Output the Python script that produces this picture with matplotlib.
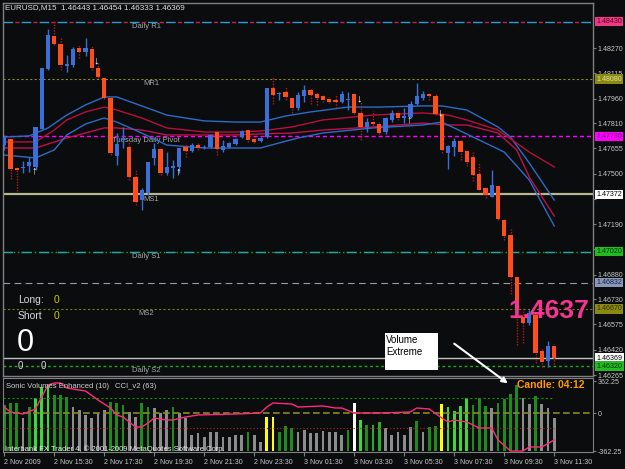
import matplotlib
matplotlib.use('Agg')
import matplotlib.pyplot as plt
from matplotlib.patches import Rectangle, FancyArrowPatch
import matplotlib.transforms as mtransforms

plt.rcParams['font.family'] = ['Liberation Sans', 'DejaVu Sans']

# ---------------- data ----------------
opens = [1.47675, 1.47712, 1.47534, 1.47534, 1.47547, 1.47541, 1.47773, 1.48141, 1.48344, 1.48295,
         1.48160, 1.48166, 1.48270, 1.48245, 1.48264, 1.48147, 1.48086, 1.47963, 1.47608, 1.47706,
         1.47663, 1.47479, 1.47338, 1.47381, 1.47596, 1.47651, 1.47504, 1.47534, 1.47541, 1.47663,
         1.47639, 1.47675, 1.47657, 1.47663, 1.47755, 1.47645, 1.47663, 1.47682, 1.47724, 1.47767,
         1.47712, 1.47700, 1.47724, 1.48025, 1.47988, 1.48000, 1.47963, 1.47902, 1.47976, 1.48013,
         1.47988, 1.47976, 1.47957, 1.47951, 1.47939, 1.47951, 1.47988, 1.47872, 1.47786, 1.47816,
         1.47804, 1.47755, 1.47829, 1.47872, 1.47841, 1.47847, 1.47927, 1.47963, 1.47988, 1.47976,
         1.47865, 1.47626, 1.47663, 1.47700, 1.47639, 1.47602, 1.47498, 1.47412, 1.47357, 1.47424,
         1.47216, 1.47124, 1.46866, 1.46621, 1.46584, 1.46633, 1.46413, 1.46352, 1.46443]
highs = [1.47737, 1.47724, 1.47541, 1.47577, 1.47602, 1.47786, 1.48147, 1.48387, 1.48435, 1.48337,
         1.48227, 1.48276, 1.48288, 1.48331, 1.48288, 1.48184, 1.48092, 1.47963, 1.47749, 1.47786,
         1.47700, 1.47522, 1.47412, 1.47571, 1.47688, 1.47657, 1.47632, 1.47583, 1.47657, 1.47688,
         1.47688, 1.47688, 1.47675, 1.47743, 1.47761, 1.47706, 1.47694, 1.47718, 1.47767, 1.47780,
         1.47724, 1.47724, 1.48025, 1.48098, 1.48000, 1.48037, 1.47970, 1.48000, 1.48043, 1.48025,
         1.48006, 1.47988, 1.47970, 1.47988, 1.48006, 1.48000, 1.47994, 1.47939, 1.47841, 1.47884,
         1.47816, 1.47847, 1.47890, 1.47884, 1.47902, 1.47945, 1.48055, 1.48006, 1.48000, 1.47988,
         1.47872, 1.47675, 1.47718, 1.47706, 1.47639, 1.47632, 1.47571, 1.47418, 1.47522, 1.47430,
         1.47222, 1.47160, 1.46872, 1.46682, 1.46664, 1.46646, 1.46426, 1.46474, 1.46454]
lows = [1.47645, 1.47467, 1.47394, 1.47504, 1.47510, 1.47522, 1.47773, 1.48135, 1.48288, 1.48135,
        1.48123, 1.48153, 1.48209, 1.48221, 1.48135, 1.48086, 1.47957, 1.47614, 1.47553, 1.47657,
        1.47461, 1.47308, 1.47277, 1.47369, 1.47553, 1.47491, 1.47491, 1.47473, 1.47504, 1.47602,
        1.47632, 1.47645, 1.47651, 1.47657, 1.47614, 1.47632, 1.47657, 1.47675, 1.47718, 1.47694,
        1.47688, 1.47694, 1.47718, 1.47927, 1.47951, 1.47951, 1.47872, 1.47890, 1.47939, 1.47927,
        1.47921, 1.47939, 1.47933, 1.47902, 1.47933, 1.47890, 1.47865, 1.47706, 1.47755, 1.47780,
        1.47743, 1.47743, 1.47816, 1.47829, 1.47810, 1.47841, 1.47921, 1.47951, 1.47951, 1.47859,
        1.47626, 1.47528, 1.47608, 1.47583, 1.47547, 1.47455, 1.47400, 1.47350, 1.47357, 1.47216,
        1.47093, 1.46762, 1.46450, 1.46462, 1.46572, 1.46340, 1.46315, 1.46315, 1.46333]
closes = [1.47724, 1.47528, 1.47522, 1.47541, 1.47571, 1.47786, 1.48147, 1.48350, 1.48295, 1.48166,
          1.48172, 1.48264, 1.48245, 1.48270, 1.48147, 1.48092, 1.47963, 1.47626, 1.47682, 1.47718,
          1.47479, 1.47326, 1.47400, 1.47571, 1.47651, 1.47504, 1.47541, 1.47547, 1.47657, 1.47639,
          1.47675, 1.47657, 1.47663, 1.47737, 1.47651, 1.47669, 1.47688, 1.47712, 1.47761, 1.47706,
          1.47694, 1.47718, 1.48025, 1.47982, 1.47994, 1.47970, 1.47902, 1.47982, 1.48013, 1.47982,
          1.47963, 1.47951, 1.47939, 1.47939, 1.47988, 1.47957, 1.47872, 1.47786, 1.47816, 1.47804,
          1.47749, 1.47841, 1.47872, 1.47841, 1.47853, 1.47927, 1.47976, 1.47988, 1.47976, 1.47865,
          1.47645, 1.47669, 1.47700, 1.47632, 1.47571, 1.47491, 1.47400, 1.47369, 1.47430, 1.47222,
          1.47118, 1.46866, 1.46664, 1.46584, 1.46646, 1.46401, 1.46346, 1.46444, 1.46369]

# moving-average envelope lines (bar index, price)
ma_blue_up_idx = [0, 4, 7, 10, 13, 16, 18, 22, 26, 32, 37, 41, 45, 49, 55, 60, 67, 70, 74, 79, 81, 84, 88]
ma_blue_up = [1.47724, 1.47731, 1.47780, 1.47859, 1.47921, 1.47970, 1.47970, 1.47915, 1.47859, 1.47823,
              1.47816, 1.47816, 1.47853, 1.47878, 1.47908, 1.47908, 1.47915, 1.47915, 1.47890, 1.47786,
              1.47724, 1.47565, 1.47338]
ma_red_up_idx = [0, 5, 8, 10, 13, 16, 18, 22, 26, 32, 37, 41, 46, 51, 59, 67, 71, 74, 79, 84, 88]
ma_red_up = [1.47694, 1.47694, 1.47767, 1.47829, 1.47878, 1.47908, 1.47890, 1.47841, 1.47780, 1.47755,
             1.47755, 1.47761, 1.47786, 1.47829, 1.47859, 1.47872, 1.47859, 1.47829, 1.47767, 1.47632,
             1.47541]
ma_red_lo_idx = [0, 5, 10, 16, 18, 22, 26, 32, 37, 41, 46, 51, 59, 67, 71, 74, 79, 82, 84, 88]
ma_red_lo = [1.47657, 1.47657, 1.47718, 1.47780, 1.47780, 1.47767, 1.47737, 1.47737, 1.47737, 1.47743,
             1.47749, 1.47767, 1.47786, 1.47810, 1.47798, 1.47798, 1.47749, 1.47645, 1.47479, 1.47240]
ma_blue_lo_idx = [0, 5, 8, 10, 13, 16, 18, 22, 26, 32, 38, 41, 44, 47, 51, 59, 67, 70, 71, 76, 80, 84, 88]
ma_blue_lo = [1.47614, 1.47596, 1.47645, 1.47737, 1.47804, 1.47841, 1.47816, 1.47749, 1.47675, 1.47657,
              1.47657, 1.47657, 1.47688, 1.47718, 1.47749, 1.47780, 1.47798, 1.47816, 1.47798, 1.47706,
              1.47632, 1.47461, 1.47179]

volumes = [460, 480, 480, 330, 440, 530, 640, 660, 560, 560, 540, 440, 410, 360, 330, 380, 410, 490, 480, 460,
           390, 340, 480, 440, 430, 380, 410, 440, 380, 330, 160, 180, 140, 190, 190, 140, 140, 160, 160, 190,
           160, 90, 340, 340, 190, 250, 230, 190, 210, 180, 180, 200, 190, 190, 160, 210, 480, 310, 260, 260,
           290, 230, 160, 190, 160, 240, 300, 190, 240, 250, 470, 440, 400, 450, 530, 460, 530, 450, 430, 480,
           520, 570, 660, 530, 470, 550, 470, 430, 330]
vol_kind = ['dg', 'dg', 'dg', 'gr', 'dg', 'bg', 'bg', 'bg', 'dg', 'dg', 'dg', 'gr', 'gr', 'gr', 'gr', 'gr', 'gr', 'dg', 'dg', 'dg',
            'gr', 'gr', 'dg', 'dg', 'gr', 'gr', 'gr', 'dg', 'gr', 'gr', 'gr', 'gr', 'gr', 'gr', 'gr', 'gr', 'gr', 'gr', 'gr', 'dg',
            'gr', 'gr', 'yl', 'yl', 'dg', 'dg', 'dg', 'gr', 'gr', 'gr', 'gr', 'gr', 'gr', 'gr', 'gr', 'dg', 'wh', 'bg', 'dg', 'mg',
            'mg', 'gr', 'gr', 'gr', 'gr', 'gr', 'dg', 'gr', 'dg', 'dg', 'yl', 'bg', 'bg', 'bg', 'bg', 'dg', 'dg', 'dg', 'gr', 'dg',
            'dg', 'dg', 'dg', 'gr', 'gr', 'dg', 'gr', 'gr', 'gr']

cci_idx = [0, 1, 3, 5, 6, 7, 8, 9, 10, 13, 15, 17, 18, 19, 21, 22, 23, 24, 26, 27, 29, 31, 37, 41, 42, 43, 46, 47,
           51, 53, 54, 56, 60, 65, 66, 68, 70, 71, 72, 74, 76, 78, 79, 81, 83, 84, 86, 88]
cci = [60, 10, -10, 40, 160, 280, 300, 300, 250, 220, 130, 50, -20, -40, -140, -140, -100, -50, -70, -70, -40, -20,
       -10, 0, 60, 100, 90, 60, 70, 50, 50, 0, 0, 10, 50, 40, -50, -90, -70, -90, -150, -150, -270, -380, -380,
       -340, -340, -270]

time_labels = ['2 Nov 2009', '2 Nov 15:30', '2 Nov 17:30', '2 Nov 19:30', '2 Nov 21:30', '2 Nov 23:30',
               '3 Nov 01:30', '3 Nov 03:30', '3 Nov 05:30', '3 Nov 07:30', '3 Nov 09:30', '3 Nov 11:30']
time_label_idx = [0, 8, 16, 24, 32, 40, 48, 56, 64, 72, 80, 88]

price_ticks = [1.48270, 1.48115, 1.47960, 1.47810, 1.47655, 1.47500, 1.47345, 1.47190, 1.47035,
               1.46880, 1.46730, 1.46575, 1.46420, 1.46265]
hidden_ticks = [1.47345, 1.47035]

level_r1, level_mr1, level_piv, level_ms1 = 1.48430, 1.48080, 1.47730, 1.47372
level_s1, level_grey, level_ms2, level_bid, level_s2 = 1.47020, 1.46832, 1.46670, 1.46369, 1.46320

up_arrows = [(4.8, 1.47522), (27.8, 1.47510), (64.8, 1.47829)]
down_arrows = [(14.7, 1.48196), (56.8, 1.47963), (69.8, 1.47872)]

# ---------------- figure ----------------
W, H = 625, 469
BG = '#0a0c0d'
fig = plt.figure(figsize=(W / 100, H / 100), dpi=100, facecolor=BG)


def fx(px):
    return px / W


def fy(py):
    return 1 - py / H


GRID = '#808080'
TXT = '#c8c8c8'
LS = 5.1

ax = fig.add_axes([fx(3), fy(376), fx(593) - fx(3), fy(3) - fy(376)])
ax.set_facecolor(BG)
ax.set_xlim(-0.2, 94.2)
ax.set_ylim(1.46259, 1.48546)
for s in ax.spines.values():
    s.set_color(GRID)
    s.set_linewidth(1)
ax.tick_params(axis='x', bottom=False, labelbottom=False)
ax.yaxis.tick_right()
ax.set_yticks(price_ticks)
ax.set_yticklabels(['' if t in hidden_ticks else f'{t:.5f}' for t in price_ticks])
ax.tick_params(axis='y', colors=GRID, labelcolor=TXT, labelsize=LS, length=2, pad=1.5, width=0.8)

# level lines
ax.axhline(level_r1, color='#2a9ad8', lw=1, ls=(0, (7, 6)), zorder=1)
ax.axhline(level_r1, color='#d02040', lw=1, ls=(4.5, (3, 10)), zorder=1)
ax.axhline(level_mr1, color='#8a8a30', lw=0.8, ls=(0, (2, 2)), zorder=1)
ax.axhline(level_piv, color='#ff00ff', lw=1, ls=(0, (3, 2)), zorder=1)
ax.axhline(level_ms1, color='#b8b890', lw=1.6, zorder=1)
ax.axhline(level_s1, color='#22aadd', lw=1, ls=(0, (7, 6)), zorder=1)
ax.axhline(level_s1, color='#22aa22', lw=1, ls=(4.5, (1, 2)), zorder=1)
ax.axhline(level_grey, color='#9a9aa8', lw=0.8, ls=(0, (6, 4)), zorder=1)
ax.axhline(level_ms2, color='#7a7a20', lw=0.8, ls=(0, (2, 2)), zorder=1)
ax.axhline(level_bid, color='#c0c0c0', lw=1, zorder=1)
ax.axhline(level_s2, color='#22aa22', lw=1, ls=(0, (2, 2)), zorder=1)

lab_kw = dict(color='#a8a8a8', fontsize=5.5, ha='center', va='top', zorder=2)
ax.text(22.7, level_r1 - 0.00007, 'Daily R1', **lab_kw)
ax.text(23.5, level_mr1 - 0.00007, 'MR1', **lab_kw)
ax.text(22.7, level_piv - 0.00007, 'Tuesday Daily Pivot', **lab_kw)
ax.text(23.5, level_ms1 - 0.00007, 'MS1', **lab_kw)
ax.text(22.7, level_s1 - 0.00007, 'Daily S1', **lab_kw)
ax.text(22.7, level_ms2 - 0.00007, 'MS2', **lab_kw)
ax.text(22.7, level_s2 - 0.00007, 'Daily S2', **lab_kw)

# MA lines
ax.plot(ma_blue_up_idx, ma_blue_up, color='#2d6cc6', lw=1, zorder=2)
ax.plot(ma_red_up_idx, ma_red_up, color='#b8103c', lw=1, zorder=2)
ax.plot(ma_red_lo_idx, ma_red_lo, color='#c0104a', lw=1, zorder=2)
ax.plot(ma_blue_lo_idx, ma_blue_lo, color='#2d6cc6', lw=1, zorder=2)

# candles
BULL = '#3a6fd8'
BEAR = '#ff4e1a'
idx = list(range(len(opens)))
for i in idx:
    o, h, l, c = opens[i], highs[i], lows[i], closes[i]
    if c >= o:
        ax.vlines(i, l, h, color=BULL, lw=1, zorder=3)
    else:
        ax.vlines(i, l, h, color='#b02020', lw=1, ls=(0, (1, 1)), zorder=3)
bull_i = [i for i in idx if closes[i] >= opens[i]]
bear_i = [i for i in idx if closes[i] < opens[i]]
ax.bar(bull_i, [max(closes[i] - opens[i], 0.00003) for i in bull_i],
       bottom=[opens[i] for i in bull_i], width=0.7, color=BULL, zorder=4)
ax.bar(bear_i, [max(opens[i] - closes[i], 0.00003) for i in bear_i],
       bottom=[closes[i] for i in bear_i], width=0.7, color=BEAR, zorder=4)

for (xi, p) in up_arrows:
    ax.text(xi, p, '\u2191', color='white', fontsize=8, fontweight='bold', ha='center', va='center', zorder=5)
for (xi, p) in down_arrows:
    ax.text(xi, p, '\u2193', color='white', fontsize=8, fontweight='bold', ha='center', va='center', zorder=5)

# right-side boxed level labels
trans = mtransforms.blended_transform_factory(ax.transAxes, ax.transData)
boxes = [(level_r1, '#ee3a86', '#5a0020'), (level_mr1, '#8a8a10', '#e0e0a0'),
         (level_piv, '#ff00ff', '#700070'), (level_ms1, '#ffffff', '#000000'),
         (level_s1, '#22bb22', '#003300'), (level_grey, '#8898b8', '#1a2040'),
         (level_ms2, '#8a8a10', '#303000'), (level_bid, '#ffffff', '#000000'),
         (level_s2, '#22bb22', '#003300')]
for p, fc, tc in boxes:
    ax.text(1.006, p, f'{p:.5f}', transform=trans, ha='left', va='center', fontsize=LS, color=tc,
            bbox=dict(boxstyle='square,pad=0.15', fc=fc, ec='none'), clip_on=False, zorder=6)

# ---------------- lower panel ----------------
ax2 = fig.add_axes([fx(3), fy(452), fx(593) - fx(3), fy(378) - fy(452)])
ax2.set_facecolor(BG)
ax2.set_xlim(-0.2, 94.2)
ax2.set_ylim(-10, 730)
for s in ax2.spines.values():
    s.set_color(GRID)
vol_colors = {'dg': '#1f8a1f', 'mg': '#2aaa2a', 'bg': '#3ad83a', 'gr': '#8c8c8c', 'yl': '#ffff00', 'wh': '#ffffff'}
ax2.bar(idx, volumes, width=0.45, color=[vol_colors[k] for k in vol_kind], zorder=2)
ax2.tick_params(axis='y', left=False, labelleft=False)
ax2.set_xticks(time_label_idx)
ax2.set_xticklabels(time_labels, ha='left')
ax2.tick_params(axis='x', colors=GRID, labelcolor=TXT, labelsize=LS, length=3, pad=2)

ax2c = ax2.twinx()
ax2c.set_ylim(-390, 350)
ax2c.set_xlim(-0.2, 94.2)
ax2c.patch.set_visible(False)
for s in ax2c.spines.values():
    s.set_visible(False)
ax2c.hlines(150, -0.2, 88, color='#1a8a1a', lw=0.8, ls=(0, (2, 2)), zorder=1)
ax2c.axhline(0, color='#8a8a20', lw=1.2, ls=(0, (4, 2)), zorder=1)
ax2c.hlines(-150, -0.2, 88, color='#c02020', lw=0.8, ls=(0, (1, 2)), zorder=1)
ax2c.plot(cci_idx, cci, color='#ff2a7a', lw=1, zorder=3)
ax2c.set_yticks([320, 0, -380])
ax2c.set_yticklabels(['362.25', '0', '-362.25'])
ax2c.tick_params(axis='y', colors=GRID, labelcolor=TXT, labelsize=LS, length=2, pad=1.5)

# ---------------- texts ----------------
fig.text(fx(5), fy(8), 'EURUSD,M15  1.46443 1.46454 1.46333 1.46369', color='#e0e0e0', fontsize=5.8, va='center')
fig.text(fx(18), fy(300), 'Long:', color='#d8d8d8', fontsize=7.5, va='center')
fig.text(fx(54), fy(300), '0', color='#c8c800', fontsize=7.5, va='center')
fig.text(fx(18), fy(316), 'Short', color='#d8d8d8', fontsize=7.5, va='center')
fig.text(fx(54), fy(316), '0', color='#c8c800', fontsize=7.5, va='center')
fig.text(fx(17), fy(343), '0', color='white', fontsize=22, va='center')
fig.text(fx(18), fy(366), '0', color='#d8d8d8', fontsize=7, va='center')
fig.text(fx(41), fy(366), '0', color='#d8d8d8', fontsize=7, va='center')
fig.text(fx(508), fy(311), '1.4637', color='#f5358f', fontsize=19, fontweight='bold', va='center')
fig.text(fx(517), fy(385), 'Candle: 04:12', color='#ff9900', fontsize=7.5, fontweight='bold', va='center')
fig.text(fx(6), fy(386), 'Sonic Volumes Enhanced (10)', color='#d0d0d0', fontsize=5.5, va='center')
fig.text(fx(115), fy(386), 'CCI_v2 (63)', color='#d0d0d0', fontsize=5.5, va='center')
fig.text(fx(5), fy(449), 'Interbank FX Trader 4, \u00a9 2001-2009 MetaQuotes Software Corp.', color='#e8e8e8',
         fontsize=5.5, va='center')

fig.add_artist(Rectangle((fx(385), fy(370)), fx(438) - fx(385), fy(333) - fy(370), transform=fig.transFigure,
                         facecolor='white', edgecolor='none'))
fig.text(fx(386), fy(340), 'Volume', color='black', fontsize=7, va='center')
fig.text(fx(386), fy(352), 'Extreme', color='black', fontsize=7, va='center')
fig.add_artist(FancyArrowPatch((fx(452), fy(342)), (fx(510), fy(385)), transform=fig.transFigure,
                               arrowstyle='-|>', mutation_scale=8, color='white', lw=1.5))

fig.savefig('out.png', dpi=100, facecolor=BG)
